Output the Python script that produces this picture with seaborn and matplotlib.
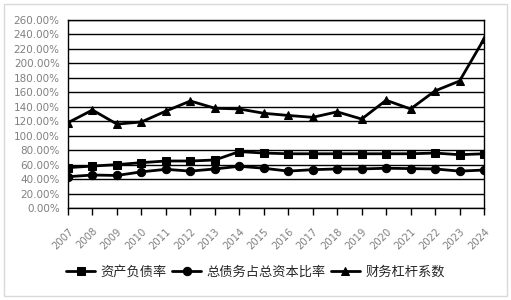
import matplotlib
matplotlib.use("Agg")
import matplotlib.pyplot as plt
import matplotlib.transforms as mtrans
import seaborn as sns
import pandas as pd
from matplotlib.patches import Rectangle
from matplotlib.ticker import FuncFormatter, MultipleLocator

years = [str(y) for y in range(2007, 2025)]
asset_liability = [55.8, 58, 60, 62.7, 65, 65, 66.4, 78, 76, 75, 75, 75, 75, 75, 75, 76, 73.7, 75]
debt_to_capital = [43.3, 45.6, 45, 50, 53.5, 51, 54, 57.7, 55, 51, 53, 54, 54, 55, 54.5, 54, 51, 52.5]
leverage = [118, 135.5, 116, 119, 134, 148, 138, 137, 131, 128, 125.4, 133, 123, 149, 137, 162, 175.6, 233.7]
series_names = ["资产负债率", "总债务占总资本比率", "财务杠杆系数"]
markers = ["s", "o", "^"]

sns.set_theme(style="white")
plt.rcParams["font.family"] = ["Noto Sans CJK SC", "DejaVu Sans"]

fig = plt.figure(figsize=(5.11, 3.0), dpi=100)
ax = fig.add_axes([68/511, 1-208/300, (484-68)/511, (208-20)/300])

idx = list(range(len(years)))
for name, vals, mk in zip(series_names, [asset_liability, debt_to_capital, leverage], markers):
    df = pd.DataFrame({"x": idx, "y": vals})
    sns.lineplot(data=df, x="x", y="y", ax=ax, color="black", linewidth=2,
                 marker=mk, markersize=6, markeredgecolor="black", label=name)

ax.set_xlim(0, len(years) - 1)
ax.set_ylim(0, 260)
ax.yaxis.set_major_locator(MultipleLocator(20))
ax.yaxis.set_major_formatter(FuncFormatter(lambda v, p: f"{v:.2f}%"))
ax.grid(axis="y", color="black", linewidth=1)
ax.grid(axis="x", visible=False)
ax.set_xticks(idx)
ax.set_xticklabels(years, rotation=45, ha="right", va="top", rotation_mode="anchor",
                   family="DejaVu Sans")
offset = mtrans.ScaledTranslation(-0.07, 0, fig.dpi_scale_trans)
for t in ax.get_xticklabels():
    t.set_transform(t.get_transform() + offset)
for t in ax.get_yticklabels():
    t.set_family("DejaVu Sans")
ax.tick_params(axis="x", direction="out", length=5, width=1, color="black",
               labelsize=7.2, labelcolor="#808080", pad=8, bottom=True)
ax.tick_params(axis="y", length=0, labelsize=7.5, labelcolor="#808080", pad=6)
for s in ax.spines.values():
    s.set_color("black")
    s.set_linewidth(1)
ax.set_xlabel("")
ax.set_ylabel("")

handles, labels = ax.get_legend_handles_labels()
ax.get_legend().remove()
fig.legend(handles, labels, loc="center", bbox_to_anchor=(0.5, 1-272/300), ncol=3,
           frameon=False, handlelength=2.2, handletextpad=0.4,
           columnspacing=0.4, prop={"family": ["Noto Sans CJK SC", "DejaVu Sans"], "size": 9.5})

fig.patches.append(Rectangle((4/511, 4/300), 503/511, 292/300, transform=fig.transFigure,
                             fill=False, edgecolor="#d9d9d9", linewidth=1))

fig.savefig("out.png", dpi=100)
